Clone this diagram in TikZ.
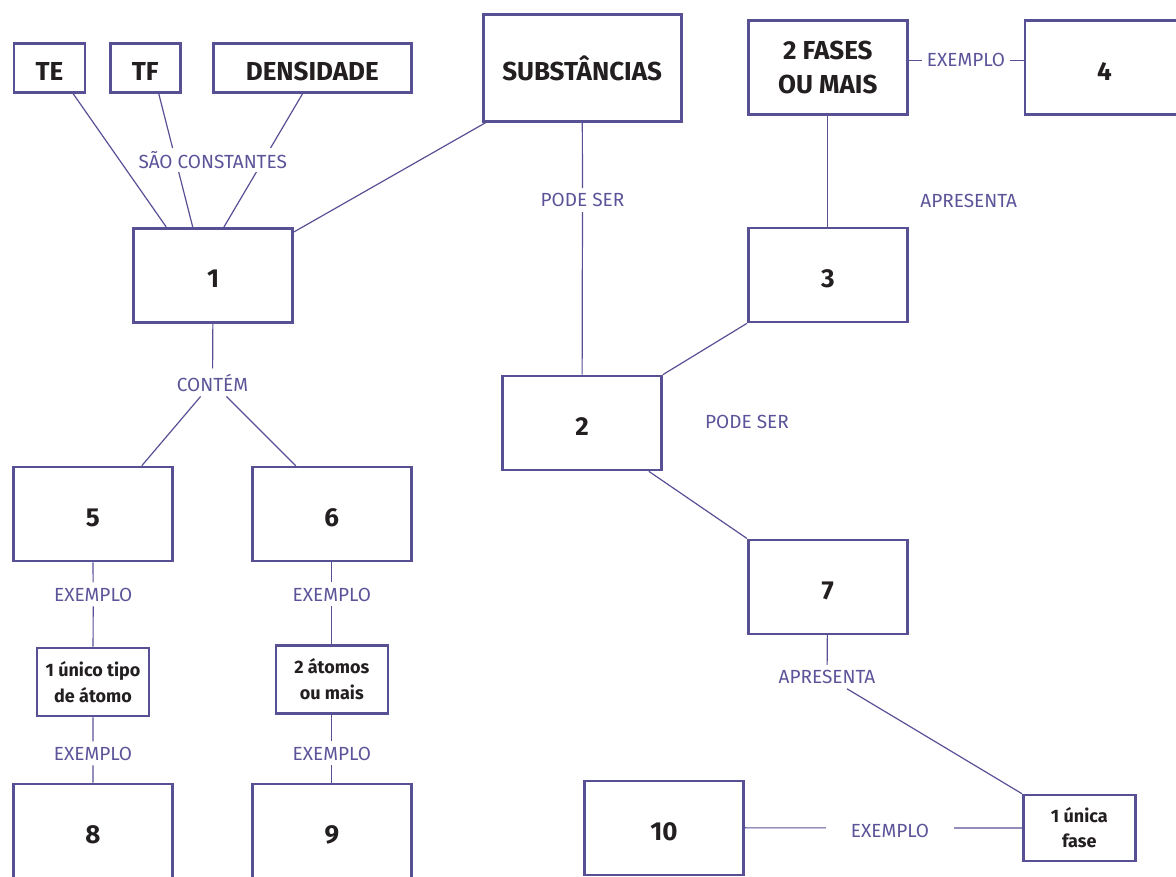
\documentclass[tikz,border=0pt]{standalone}
\usepackage{fontspec}
\setmainfont{Fira Sans}
\usepackage{tikz}
\usetikzlibrary{positioning,calc}
\definecolor{cmpurple}{HTML}{575095}
\definecolor{cmlabel}{HTML}{5B5499}
\definecolor{cmtext}{HTML}{231F20}

\begin{document}
\begin{tikzpicture}[x=1pt,y=-1pt,
    cbox/.style={draw=cmpurple,line width=2.6pt,fill=white,text=cmtext,
      font=\bfseries\fontsize{26}{34}\selectfont,inner sep=0pt,
      minimum width=159pt,minimum height=94pt},
    onel/.style={text height=25pt,text depth=0pt},
    sbox/.style={cbox,align=center,font=\bfseries\fontsize{18}{26}\selectfont,
      minimum width=112pt,minimum height=68pt},
    lbl/.style={text=cmlabel,font=\fontsize{19}{22}\selectfont,
      inner sep=5pt,anchor=base},
    link/.style={draw=cmpurple,line width=1.2pt}]
  \useasboundingbox (0,0) rectangle (1176,876);
  \clip (0,0) rectangle (1176,876);

  % Top row
  \node[cbox,onel,minimum width=71pt,minimum height=49pt] (te) at (49.5,67.7) {TE};
  \node[cbox,onel,minimum width=70pt,minimum height=49pt] (tf) at (145.3,67.7) {TF};
  \node[cbox,onel,minimum width=198pt,minimum height=49pt] (dens) at (312.3,67.7) {DENSIDADE};
  \node[cbox,onel,minimum width=198pt,minimum height=107pt] (subst) at (582.2,67.7) {SUBSTÂNCIAS};
  \node[cbox,align=center] (fases) at (827.8,67.5) {2 FASES\\OU MAIS};
  \node[cbox,onel] (four) at (1104.5,67.5) {4};

  % Middle boxes
  \node[cbox,onel] (one) at (213.2,275.2) {1};
  \node[cbox,onel] (three) at (827.8,275) {3};
  \node[cbox,onel] (two) at (582,423) {2};
  \node[cbox,onel] (five) at (92.8,514) {5};
  \node[cbox,onel] (six) at (331.8,514) {6};
  \node[cbox,onel] (seven) at (827.8,586.8) {7};

  % Small boxes
  \node[sbox] (unico) at (93,682) {1 único tipo\\de átomo};
  \node[sbox] (atomos) at (331.8,679.3) {2 átomos\\ou mais};
  \node[sbox,minimum height=66pt,font=\bfseries\fontsize{18}{25}\selectfont] (fase) at (1079.3,828) {1 única\\fase};

  % Bottom row
  \node[cbox,onel] (eight) at (93,830.8) {8};
  \node[cbox,onel] (nine) at (331.8,830.8) {9};
  \node[cbox,onel] (ten) at (664,827.8) {10};

  % Links to box 1
  \draw[link] ([xshift=23.5pt]te.south) -- ([xshift=-47pt]one.north);
  \draw[link] ([xshift=13.4pt]tf.south) -- ([xshift=-20.5pt]one.north);
  \draw[link] ([xshift=-9.6pt]dens.south) -- ([xshift=10.8pt]one.north);
  \node[lbl,fill=white,inner sep=3pt] (saoc) at (212.7,168.3) {SÃO CONSTANTES};
  \draw[link] ([xshift=4pt]subst.south west) -- ([yshift=-5pt]one.north east);

  % Left branch
  \node[lbl] (contem) at (212.5,391) {CONTÉM};
  \draw[link] (one) -- (contem);
  \draw[link] (contem) -- ([xshift=49pt]five.north);
  \draw[link] (contem) -- ([xshift=-36pt]six.north);
  \node[lbl] (exfive) at (93.2,601) {EXEMPLO};
  \node[lbl] (exsix) at (331.8,601) {EXEMPLO};
  \node[lbl] (exunico) at (93,760) {EXEMPLO};
  \node[lbl] (exatomos) at (331.8,760) {EXEMPLO};
  \draw[link] (five) -- (exfive) -- (unico) -- (exunico) -- (eight);
  \draw[link] (six) -- (exsix) -- (atomos) -- (exatomos) -- (nine);

  % Right branch
  \node[lbl] (podeA) at (582.5,206.7) {PODE SER};
  \draw[link] (subst) -- (podeA) -- (two);
  \node[lbl] (podeB) at (747,428.3) {PODE SER};
  \draw[link] (two.north east) -- (three.south west);
  \draw[link] ([xshift=-14pt]two.south east) -- (seven.north west);
  \node[lbl] (apresA) at (968.7,207.3) {APRESENTA};
  \draw[link] (fases) -- (three);
  \node[lbl] (extop) at (966,66.7) {EXEMPLO};
  \draw[link] (fases.east |- extop) -- (extop) -- (four.west |- extop);
  \node[lbl] (apresB) at (827,683.3) {APRESENTA};
  \draw[link] (seven) -- (apresB) -- (fase.north west);
  \draw[link] (ten) -- (fase);
  \node[lbl,fill=white,inner xsep=25pt] (exbot) at (890,837.3) {EXEMPLO};
\end{tikzpicture}
\end{document}
